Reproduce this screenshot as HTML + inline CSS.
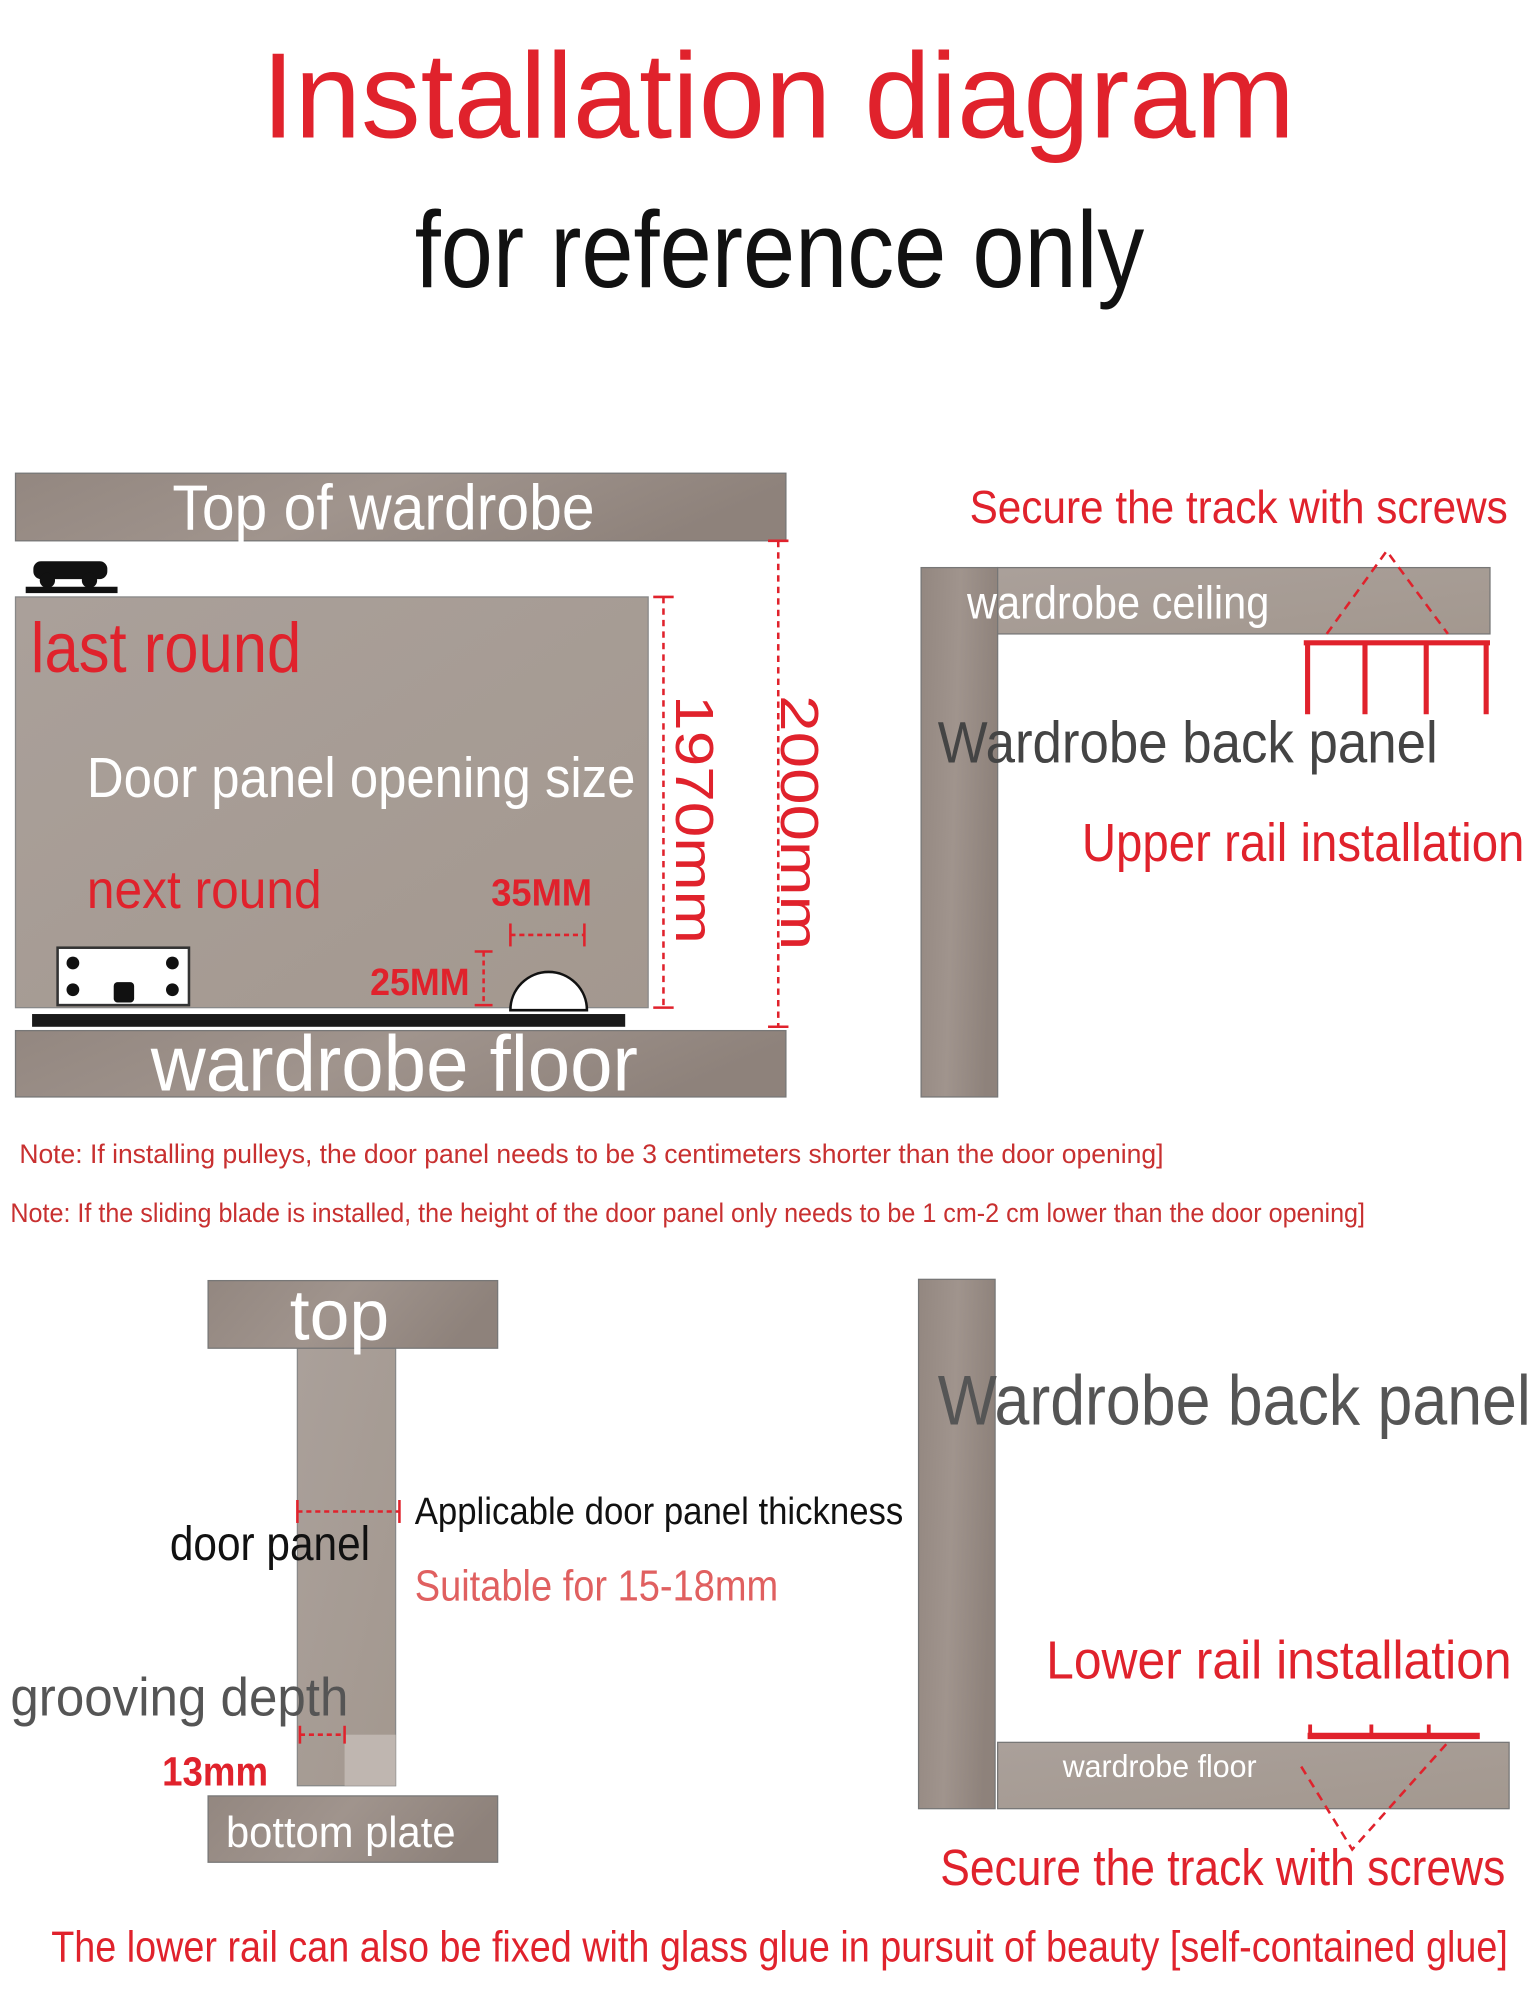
<!DOCTYPE html>
<html><head><meta charset="utf-8"><style>
html,body{margin:0;padding:0;background:#fff;width:1531px;height:2000px;overflow:hidden}
svg{display:block}
text{font-family:"Liberation Sans Narrow","Liberation Sans",sans-serif}
</style></head><body>
<svg width="1531" height="2000" viewBox="0 0 1200 1568" xmlns="http://www.w3.org/2000/svg">
<defs>
<linearGradient id="wd" x1="0" y1="0" x2="1" y2="0.2"><stop offset="0" stop-color="#938780"/><stop offset="0.5" stop-color="#a0948d"/><stop offset="1" stop-color="#8e827b"/></linearGradient>
<linearGradient id="wl" x1="0" y1="0" x2="1" y2="1"><stop offset="0" stop-color="#aaa09a"/><stop offset="1" stop-color="#a3988f"/></linearGradient>
</defs>
<rect width="1200" height="1568" fill="#fff"/>
<text x="205" y="108" font-size="95" fill="#e0222c" textLength="810" lengthAdjust="spacingAndGlyphs">Installation diagram</text>
<text x="325" y="225" font-size="85" fill="#111" textLength="572" lengthAdjust="spacingAndGlyphs">for reference only</text>

<!-- top-left diagram -->
<rect x="12" y="371" width="604" height="53" fill="url(#wd)" stroke="#777" stroke-width="1"/>
<text x="135" y="415" font-size="50" fill="#fff" textLength="331" lengthAdjust="spacingAndGlyphs">Top of wardrobe</text>
<rect x="12" y="468" width="496" height="322" fill="url(#wl)" stroke="#888" stroke-width="1"/>
<g fill="#111"><rect x="26" y="440" width="58" height="14" rx="6"/><circle cx="37" cy="455" r="6"/><circle cx="70" cy="455" r="6"/><rect x="20" y="460" width="72" height="5"/></g>
<text x="24" y="527" font-size="55" fill="#e0222c" textLength="212" lengthAdjust="spacingAndGlyphs">last round</text>
<text x="68" y="625" font-size="44" fill="#fff" textLength="430" lengthAdjust="spacingAndGlyphs">Door panel opening size</text>
<text x="68" y="712" font-size="42" fill="#e0222c" textLength="184" lengthAdjust="spacingAndGlyphs">next round</text>
<text x="385" y="710" font-size="30" font-weight="bold" fill="#e0222c" textLength="79" lengthAdjust="spacingAndGlyphs">35MM</text>
<text x="290" y="780" font-size="30" font-weight="bold" fill="#e0222c" textLength="78" lengthAdjust="spacingAndGlyphs">25MM</text>
<g stroke="#e0222c" stroke-width="2"><line x1="400" y1="733" x2="458" y2="733" stroke-dasharray="4 3"/><line x1="400" y1="724" x2="400" y2="742"/><line x1="458" y1="724" x2="458" y2="742"/>
<line x1="379" y1="746" x2="379" y2="788" stroke-dasharray="4 3"/><line x1="372" y1="746" x2="386" y2="746"/><line x1="372" y1="788" x2="386" y2="788"/></g>
<path d="M400 792 A30 30 0 0 1 460 792 Z" fill="#fff" stroke="#111" stroke-width="2"/>
<rect x="45" y="743" width="103" height="45" fill="#fff" stroke="#333" stroke-width="2"/>
<g fill="#111"><circle cx="57" cy="755" r="5"/><circle cx="57" cy="776" r="5"/><circle cx="135" cy="755" r="5"/><circle cx="135" cy="776" r="5"/><rect x="89" y="770" width="16" height="16" rx="3"/></g>
<rect x="25" y="795" width="465" height="10" fill="#1a1a1a"/>
<rect x="12" y="808" width="604" height="52" fill="url(#wd)" stroke="#777" stroke-width="1"/>
<text x="118" y="855" font-size="62" fill="#fff" textLength="382" lengthAdjust="spacingAndGlyphs">wardrobe floor</text>
<g stroke="#e0222c" stroke-width="2"><line x1="520" y1="468" x2="520" y2="790" stroke-dasharray="5 4"/><line x1="512" y1="468" x2="528" y2="468"/><line x1="512" y1="790" x2="528" y2="790"/>
<line x1="610" y1="424" x2="610" y2="805" stroke-dasharray="5 4"/><line x1="602" y1="424" x2="618" y2="424"/><line x1="602" y1="805" x2="618" y2="805"/></g>
<text transform="translate(530,545) rotate(90)" font-size="42" fill="#e0222c" textLength="195" lengthAdjust="spacingAndGlyphs">1970mm</text>
<text transform="translate(612,545) rotate(90)" font-size="42" fill="#e0222c" textLength="200" lengthAdjust="spacingAndGlyphs">2000mm</text>

<!-- top-right -->
<text x="760" y="410" font-size="36" fill="#e0222c" textLength="422" lengthAdjust="spacingAndGlyphs">Secure the track with screws</text>
<rect x="722" y="445" width="60" height="415" fill="url(#wd)" stroke="#777" stroke-width="1"/>
<rect x="782" y="445" width="386" height="52" fill="url(#wl)" stroke="#777" stroke-width="1"/>
<text x="758" y="485" font-size="36" fill="#fff" textLength="237" lengthAdjust="spacingAndGlyphs">wardrobe ceiling</text>
<path d="M1040 497 L1087 432 L1135 497" fill="none" stroke="#e0222c" stroke-width="2" stroke-dasharray="7 5"/>
<g stroke="#e0222c" stroke-width="4"><line x1="1022" y1="504" x2="1168" y2="504"/><line x1="1025" y1="504" x2="1025" y2="560"/><line x1="1070" y1="504" x2="1070" y2="560"/><line x1="1118" y1="504" x2="1118" y2="560"/><line x1="1165" y1="504" x2="1165" y2="560"/></g>
<text x="735" y="598" font-size="46" fill="#444" textLength="392" lengthAdjust="spacingAndGlyphs">Wardrobe back panel</text>
<text x="848" y="675" font-size="42" fill="#e0222c" textLength="347" lengthAdjust="spacingAndGlyphs">Upper rail installation</text>

<!-- notes -->
<text x="15" y="912" font-size="21" fill="#c83030" textLength="897" lengthAdjust="spacingAndGlyphs">Note: If installing pulleys, the door panel needs to be 3 centimeters shorter than the door opening]</text>
<text x="8" y="958" font-size="21" fill="#c83030" textLength="1062" lengthAdjust="spacingAndGlyphs">Note: If the sliding blade is installed, the height of the door panel only needs to be 1 cm-2 cm lower than the door opening]</text>

<!-- bottom-left -->
<rect x="233" y="1057" width="77" height="343" fill="url(#wl)" stroke="#888" stroke-width="1"/>
<rect x="270" y="1360" width="40" height="40" fill="#bfb6b0"/>
<rect x="163" y="1004" width="227" height="53" fill="url(#wd)" stroke="#777" stroke-width="1"/>
<text x="227" y="1050" font-size="56" fill="#fff" textLength="78" lengthAdjust="spacingAndGlyphs">top</text>
<rect x="163" y="1408" width="227" height="52" fill="url(#wd)" stroke="#777" stroke-width="1"/>
<text x="177" y="1448" font-size="34" fill="#fff" textLength="180" lengthAdjust="spacingAndGlyphs">bottom plate</text>
<g stroke="#e0222c" stroke-width="2"><line x1="233" y1="1185" x2="313" y2="1185" stroke-dasharray="4 3"/><line x1="233" y1="1176" x2="233" y2="1194"/><line x1="313" y1="1176" x2="313" y2="1194"/>
<line x1="235" y1="1360" x2="270" y2="1360" stroke-dasharray="4 3"/><line x1="235" y1="1353" x2="235" y2="1367"/><line x1="270" y1="1353" x2="270" y2="1367"/></g>
<text x="133" y="1223" font-size="38" fill="#111" textLength="157" lengthAdjust="spacingAndGlyphs">door panel</text>
<text x="325" y="1195" font-size="30" fill="#111" textLength="383" lengthAdjust="spacingAndGlyphs">Applicable door panel thickness</text>
<text x="325" y="1255" font-size="34" fill="#e06060" textLength="285" lengthAdjust="spacingAndGlyphs">Suitable for 15-18mm</text>
<text x="8" y="1345" font-size="42" fill="#555" textLength="265" lengthAdjust="spacingAndGlyphs">grooving depth</text>
<text x="127" y="1400" font-size="32" font-weight="bold" fill="#e0222c" textLength="83" lengthAdjust="spacingAndGlyphs">13mm</text>

<!-- bottom-right -->
<rect x="720" y="1003" width="60" height="415" fill="url(#wd)" stroke="#777" stroke-width="1"/>
<rect x="782" y="1366" width="401" height="52" fill="url(#wl)" stroke="#777" stroke-width="1"/>
<text x="735" y="1117" font-size="55" fill="#555" textLength="465" lengthAdjust="spacingAndGlyphs">Wardrobe back panel</text>
<text x="820" y="1316" font-size="42" fill="#e0222c" textLength="365" lengthAdjust="spacingAndGlyphs">Lower rail installation</text>
<g stroke="#e0222c" stroke-width="5"><line x1="1025" y1="1361" x2="1160" y2="1361"/></g>
<g stroke="#e0222c" stroke-width="3"><line x1="1027" y1="1352" x2="1027" y2="1362"/><line x1="1075" y1="1352" x2="1075" y2="1362"/><line x1="1120" y1="1352" x2="1120" y2="1362"/></g>
<text x="833" y="1393" font-size="25" fill="#fff" textLength="152" lengthAdjust="spacingAndGlyphs">wardrobe floor</text>
<path d="M1020 1385 L1060 1450 L1135 1366" fill="none" stroke="#e0222c" stroke-width="2" stroke-dasharray="7 5"/>
<text x="737" y="1478" font-size="40" fill="#e0222c" textLength="443" lengthAdjust="spacingAndGlyphs">Secure the track with screws</text>
<text x="40" y="1538" font-size="34" fill="#e0222c" textLength="1142" lengthAdjust="spacingAndGlyphs">The lower rail can also be fixed with glass glue in pursuit of beauty [self-contained glue]</text>
</svg>
</body></html>
